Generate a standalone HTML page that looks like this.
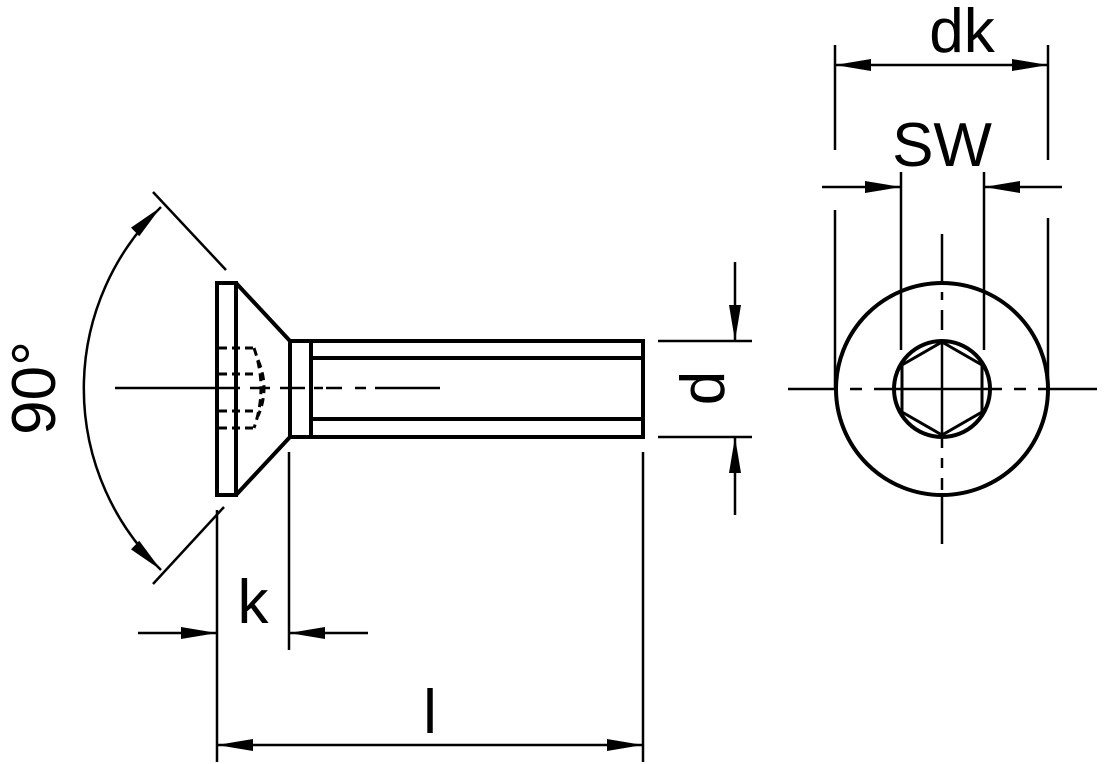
<!DOCTYPE html>
<html><head><style>html,body{margin:0;padding:0;background:#fff}svg{display:block}</style></head>
<body>
<svg width="1116" height="764" viewBox="0 0 1116 764" xmlns="http://www.w3.org/2000/svg">
<defs>
<marker id="a" viewBox="0 0 10 10" refX="10" refY="5" markerWidth="36" markerHeight="12" markerUnits="userSpaceOnUse" orient="auto-start-reverse" preserveAspectRatio="none"><path d="M0,0 L10,5 L0,10 z" fill="#000"/></marker>
</defs>
<g fill="none" stroke="#000" stroke-width="4">
<rect x="217" y="283" width="19" height="212"/>
<path d="M236,283 L290,341 M236,495 L290,437"/>
<rect x="290" y="341" width="353" height="96"/>
<line x1="311" y1="341" x2="311" y2="437"/>
<line x1="311" y1="358" x2="643" y2="358"/>
<line x1="311" y1="419" x2="643" y2="419"/>
<g stroke-width="3" stroke-dasharray="8,5">
<line x1="219" y1="348" x2="254" y2="348"/>
<line x1="219" y1="374" x2="254" y2="374"/>
<line x1="219" y1="411" x2="254" y2="411"/>
<line x1="219" y1="428" x2="254" y2="428"/>
<path d="M254,348 Q268,388 254,428"/>
<path d="M258,360 Q270,388 258,416"/>
</g>
</g>
<g stroke="#000" stroke-width="2.5" fill="none">
<line x1="115" y1="388" x2="206" y2="388"/>
<path d="M206,388 H240 M250,388 H270 M280,388 H305 M314,388 H323 M326,388 H342 M355,388 H366 M375,388 H440" />
<line x1="153" y1="192" x2="226" y2="270"/>
<line x1="153" y1="584" x2="224" y2="507"/>
<path d="M161,207 A252,252 0 0 0 161,570" marker-start="url(#a)" marker-end="url(#a)"/>
<line x1="217" y1="510" x2="217" y2="762"/>
<line x1="289" y1="452" x2="289" y2="650"/>
<line x1="138" y1="633" x2="217" y2="633" marker-end="url(#a)"/>
<line x1="368" y1="633" x2="289" y2="633" marker-end="url(#a)"/>
<line x1="643" y1="452" x2="643" y2="762"/>
<line x1="217" y1="745" x2="643" y2="745" marker-start="url(#a)" marker-end="url(#a)"/>
<line x1="658" y1="341" x2="752" y2="341"/>
<line x1="658" y1="437" x2="752" y2="437"/>
<line x1="735" y1="262" x2="735" y2="341" marker-end="url(#a)"/>
<line x1="735" y1="515" x2="735" y2="437" marker-end="url(#a)"/>
<line x1="835" y1="45" x2="835" y2="150"/>
<line x1="1048" y1="45" x2="1048" y2="160"/>
<line x1="835" y1="65" x2="1048" y2="65" marker-start="url(#a)" marker-end="url(#a)"/>
<line x1="901" y1="172" x2="901" y2="350"/>
<line x1="984" y1="172" x2="984" y2="350"/>
<line x1="822" y1="187" x2="901" y2="187" marker-end="url(#a)"/>
<line x1="1062" y1="187" x2="984" y2="187" marker-end="url(#a)"/>
<line x1="835" y1="210" x2="835" y2="390"/>
<line x1="1048" y1="218" x2="1048" y2="390"/>
<path d="M788,389 H838 M850,389 H862 M874,389 H1002 M1014,389 H1026 M1038,389 H1097"/>
<path d="M942,234 V285 M942,292 V300 M942,310 V330 M942,340 V448 M942,458 V468 M942,478 V490 M942,497 V544"/>
</g>
<g fill="none" stroke="#000" stroke-width="4">
<circle cx="942" cy="389" r="106"/>
<circle cx="942" cy="389" r="48"/>
<polygon points="942,342 982,365 982,412 942,435 902,412 902,365" stroke-width="3"/>
</g>
<g font-family="Liberation Sans, sans-serif" font-size="62" fill="#000">
<text x="962" y="52" text-anchor="middle">dk</text>
<text x="942" y="166" text-anchor="middle">SW</text>
<text x="253" y="623" text-anchor="middle">k</text>
<text x="430" y="733" text-anchor="middle">l</text>
<text transform="translate(724,388) rotate(-90)" text-anchor="middle">d</text>
<text transform="translate(55,388) rotate(-90)" text-anchor="middle">90°</text>
</g>
</svg>
</body></html>
